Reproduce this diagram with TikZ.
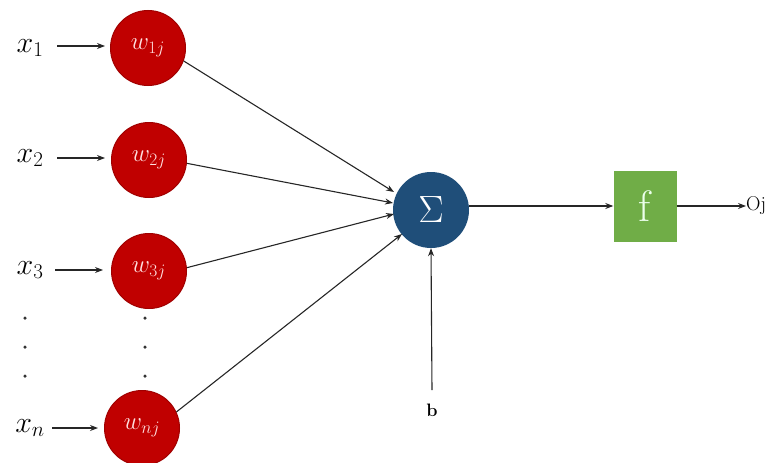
\RequirePackage{fix-cm}
\documentclass[tikz,border=0pt]{standalone}
\usetikzlibrary{arrows.meta}
\definecolor{wred}{HTML}{C00000}
\definecolor{wredd}{HTML}{A00000}
\definecolor{sblue}{HTML}{1F4E79}
\definecolor{fgreen}{HTML}{70AD47}
\tikzset{
  wnode/.style={circle, fill=wred, draw=wredd, line width=1pt, minimum size=75pt, inner sep=0pt, text=red!12, font=\fontsize{25}{29}\selectfont},
  xlabel/.style={inner sep=0pt, font=\fontsize{30}{34}\selectfont},
  arr/.style={-{Stealth[length=8pt,width=6pt]}, line width=1.1pt, black!85},
  dotn/.style={circle, fill=black!80, inner sep=0pt, minimum size=3.5pt}
}
\begin{document}
\begin{tikzpicture}[x=1pt,y=-1pt]
\useasboundingbox (0,0) rectangle (777,463);
% weight nodes
\node[wnode] (w1) at (148,48) {$w_{1j}$};
\node[wnode] (w2) at (149,160) {$w_{2j}$};
\node[wnode] (w3) at (149,271) {$w_{3j}$};
\node[wnode] (wn) at (142,428) {$w_{nj}$};
% inputs
\node[xlabel] (x1) at (30,48) {$x_1$};
\node[xlabel] (x2) at (30,158) {$x_2$};
\node[xlabel] (x3) at (30,270) {$x_3$};
\node[xlabel] (xn) at (30,428) {$x_n$};
\coordinate (a1) at (57,46); \coordinate (b1) at (105,46);
\coordinate (a2) at (57,158); \coordinate (b2) at (105,158);
\coordinate (a3) at (55,270); \coordinate (b3) at (103,270);
\coordinate (an) at (52,428); \coordinate (bn) at (98,428);
\draw[arr] (a1) -- (b1);
\draw[arr] (a2) -- (b2);
\draw[arr] (a3) -- (b3);
\draw[arr] (an) -- (bn);
% dots
\node[dotn] (d1) at (25,318) {};
\node[dotn] (d2) at (25,347) {};
\node[dotn] (d3) at (25,376) {};
\node[dotn] (e1) at (145,318) {};
\node[dotn] (e2) at (145,347) {};
\node[dotn] (e3) at (145,376) {};
% sum
\node[circle, fill=sblue, minimum size=76pt, inner sep=0pt, text=white, font=\fontsize{38}{42}\selectfont] (s) at (431,210) {$\Sigma$};
\coordinate (s1) at (394,192);
\coordinate (s2) at (393,203);
\coordinate (s3) at (394,214);
\coordinate (s4) at (402,234);
\draw[arr] (w1.-20) -- (s1);
\draw[arr] (w2.-5) -- (s2);
\draw[arr] (w3.5) -- (s3);
\draw[arr] (wn.25) -- (s4);
% bias
\node[inner sep=0pt, font=\fontsize{18}{21}\selectfont\bfseries] (b) at (432,410) {b};
\coordinate (bt) at (432,390);
\draw[arr] (bt) -- (s.south);
% activation
\node[rectangle, fill=fgreen, minimum width=63pt, minimum height=71pt, inner sep=0pt, text=green!8, font=\fontsize{44}{48}\selectfont] (f) at (645,206) {f};
\draw[arr] (s.east |- f.west) -- (f.west);
\node[inner sep=0pt, anchor=west, font=\fontsize{20}{24}\selectfont] (o) at (746,206) {Oj};
\draw[arr] (f.east) -- (o.west);
\end{tikzpicture}
\end{document}
